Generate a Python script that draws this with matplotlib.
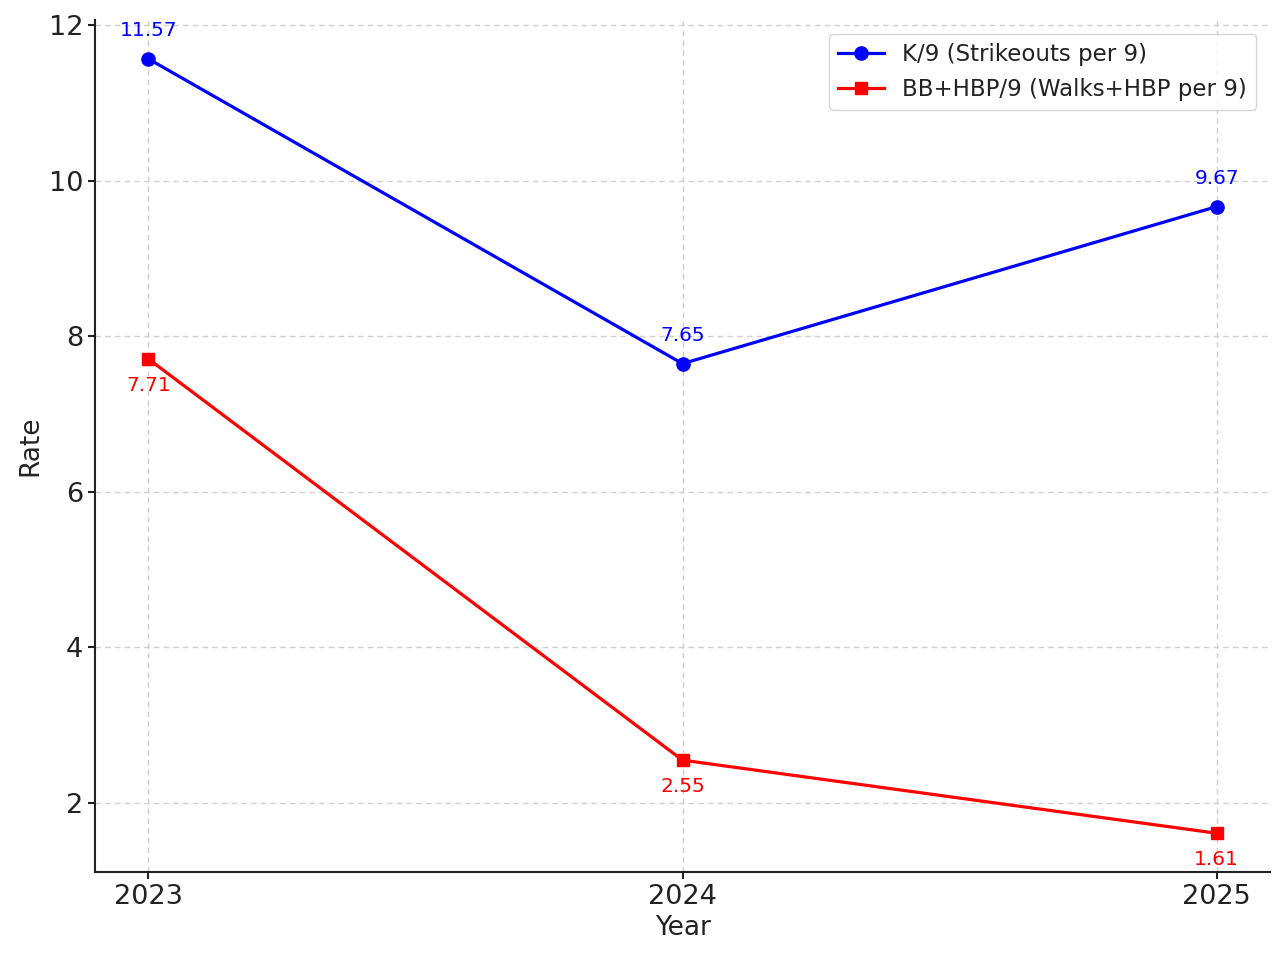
import matplotlib.pyplot as plt

years = [2023, 2024, 2025]
k9 = [11.57, 7.65, 9.67]
bb9 = [7.71, 2.55, 1.61]

plt.rcParams['font.family'] = 'DejaVu Sans'
plt.rcParams['text.color'] = '#222222'
plt.rcParams['axes.labelcolor'] = '#222222'
plt.rcParams['xtick.color'] = '#222222'
plt.rcParams['ytick.color'] = '#222222'

fig = plt.figure(figsize=(12.86, 9.6), dpi=100)
ax = fig.add_axes([0.0739, 0.0917, 0.9137, 0.8873])

ax.plot(years, k9, color='blue', marker='o', markersize=9.5, linewidth=2.3,
        label='K/9 (Strikeouts per 9)')
ax.plot(years, bb9, color='red', marker='s', markersize=8.5, linewidth=2.3,
        label='BB+HBP/9 (Walks+HBP per 9)')

for x, y in zip(years, k9):
    ax.annotate(f'{y:.2f}', (x, y), textcoords='offset points', xytext=(0, 16.5),
                ha='center', va='baseline', color='blue', fontsize=14.5)
for x, y in zip(years, bb9):
    ax.annotate(f'{y:.2f}', (x, y), textcoords='offset points', xytext=(0, -23),
                ha='center', va='baseline', color='red', fontsize=14.5)

ax.set_xticks(years)
ax.set_xticklabels([str(y) for y in years])
ax.set_yticks([2, 4, 6, 8, 10, 12])
ax.tick_params(labelsize=19.5, width=1.5, length=5)
ax.set_xlabel('Year', fontsize=19)
ax.set_ylabel('Rate', fontsize=19)

ax.grid(True, linestyle=(0, (4, 3)), color='#d0d0d0', linewidth=1)
for s in ['top', 'right']:
    ax.spines[s].set_visible(False)
for s in ['left', 'bottom']:
    ax.spines[s].set_linewidth(1.5)
    ax.spines[s].set_color('#222222')

leg = ax.legend(loc='upper right', fontsize=16.5, frameon=True, fancybox=True,
                borderpad=0.4, handlelength=2, borderaxespad=0.6)
leg.get_frame().set_edgecolor('#cccccc')

fig.savefig('out.png', dpi=100)
